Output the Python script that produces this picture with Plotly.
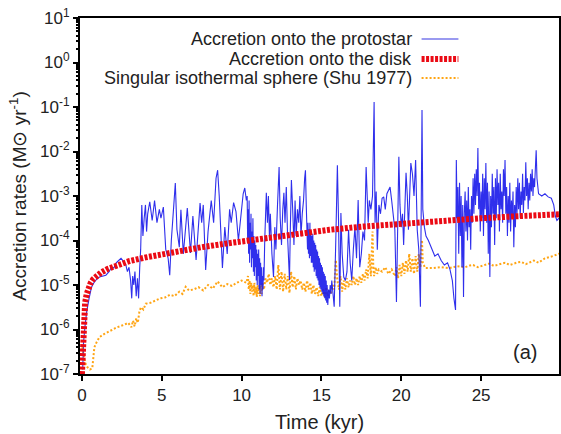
import plotly.graph_objects as go

# ---------------- data (values stored as log10) ----------------
proto_t = [0.05,0.1,0.2,0.3,0.45,0.6,0.75,0.9,1.1,1.3,1.5,1.7,1.85,2.0,2.15,2.3,2.45,2.6,2.75,2.85,2.95,3.05,3.12,3.18,3.25,3.32,3.4,3.48,3.55,3.62,3.68,3.75,
           3.82,3.9,3.98,4.05,4.12,4.25,4.4,4.55,4.7,4.85,4.95,5.1,5.25,5.4,5.5,5.6,5.72,5.85,5.95,6.1,6.2,6.35,6.45,6.6,6.8,6.95,7.15,7.25,7.4,7.5,7.6,7.75,7.9,8.1,8.25,8.4,8.5,8.6,8.7,8.8,8.95,9.1,9.25,9.35,9.5,9.65,9.8,9.95,10.1,10.2,10.3,
           10.35,10.38,10.41,10.44,10.47,10.50,10.53,10.56,10.59,10.62,10.65,10.68,10.71,10.74,10.77,10.80,10.83,10.86,10.89,10.92,10.95,10.98,11.01,11.04,11.07,11.10,11.13,11.16,11.19,11.22,11.25,11.28,11.31,11.34,11.37,11.40,11.45,11.5,
           11.55,11.62,11.68,11.75,11.8,11.9,12.0,12.08,12.15,12.25,12.35,12.42,12.5,12.58,12.65,12.72,12.8,12.88,12.95,13.0,13.05,13.12,13.2,13.28,13.35,13.42,13.5,13.58,13.65,13.72,13.8,13.88,13.95,14.0,14.05,
           14.1,14.13,14.16,14.19,14.22,14.25,14.28,14.31,14.34,14.37,14.40,14.43,14.46,14.49,14.52,14.55,14.58,14.61,14.64,14.67,14.70,14.73,14.76,14.79,14.82,14.85,14.88,14.91,14.94,14.97,15.00,15.03,15.06,15.09,15.12,15.15,15.18,15.21,15.24,15.27,15.30,15.33,15.36,15.40,15.45,15.5,15.55,15.6,15.65,15.72,15.8,
           15.9,16.0,16.07,16.15,16.22,16.3,16.4,16.5,16.6,16.7,16.8,16.9,17.0,17.1,17.2,17.3,17.4,17.5,17.6,17.7,17.8,17.87,17.93,18.0,18.1,18.2,18.3,18.36,18.43,18.5,18.6,18.7,18.8,18.9,19.0,19.1,19.2,19.3,19.4,19.5,19.6,19.7,19.78,19.85,19.92,20.0,20.08,20.15,20.3,20.38,20.45,20.52,20.6,20.7,20.8,20.9,21.0,21.1,21.2,21.3,21.35,21.45,21.55,
           21.7,21.9,22.1,22.3,22.5,22.7,22.9,23.05,23.2,23.3,23.4,
           23.45,23.5,23.55,23.6,23.65,23.7,23.75,23.8,23.85,23.9,23.95,24.0,24.05,24.1,24.15,24.2,24.25,24.3,24.35,24.4,24.45,24.5,24.55,24.6,24.65,24.7,24.75,24.8,24.85,24.9,24.95,25.0,25.05,25.1,25.15,25.2,25.25,25.3,25.35,25.4,25.45,25.5,25.55,25.6,25.65,25.7,25.75,25.8,25.85,25.9,25.95,26.0,26.05,26.1,26.15,26.2,26.25,26.3,26.35,26.4,26.45,26.5,26.55,26.6,26.65,26.7,26.75,26.8,26.85,26.9,26.95,27.0,27.05,27.1,27.15,27.2,27.25,27.3,27.35,27.4,27.45,27.5,27.55,27.6,27.65,27.7,27.75,27.8,27.85,27.9,27.95,28.0,28.05,28.1,28.15,28.2,28.25,28.3,28.35,28.4,28.45,28.5,28.55,
           28.6,28.8,29.0,29.2,29.4,29.55,29.65,29.75,29.85,30.0]
proto_log = [-6.9,-6.3,-5.9,-5.6,-5.3,-5.05,-4.95,-4.88,-4.82,-4.8,-4.78,-4.7,-4.6,-4.62,-4.5,-4.45,-4.4,-4.47,-4.55,-4.7,-4.6,-4.9,-5.3,-4.8,-5.0,-4.7,-5.25,-4.85,-5.3,-4.6,-4.2,-3.2,
             -3.9,-3.5,-3.2,-3.8,-3.4,-3.13,-3.55,-3.1,-3.6,-3.3,-3.5,-3.25,-4.2,-4.4,-4.78,-4.0,-3.35,-2.71,-3.75,-4.15,-3.31,-4.3,-3.9,-3.27,-4.28,-3.45,-4.44,-3.9,-3.16,-3.6,-3.2,-4.66,-3.8,-3.1,-3.6,-2.6,-2.42,-3.0,-4.0,-4.62,-3.7,-4.3,-3.3,-3.6,-3.15,-3.35,-4.0,-3.4,-2.95,-2.82,-3.1,
             -3.0,-4.0,-3.3,-4.3,-3.1,-4.5,-3.6,-4.2,-3.4,-4.6,-3.8,-4.4,-3.5,-4.7,-3.9,-4.8,-4.0,-4.6,-4.1,-4.9,-4.2,-5.0,-4.3,-4.8,-4.2,-5.1,-4.4,-5.2,-4.5,-5.0,-4.6,-5.25,-4.8,-5.1,-4.6,-4.9,-4.0,-3.3,
             -2.93,-3.6,-3.0,-4.0,-3.4,-4.3,-4.82,-3.7,-4.2,-3.2,-2.35,-3.5,-4.1,-3.3,-2.93,-3.6,-2.8,-3.9,-4.4,-4.89,-3.8,-2.64,-3.3,-4.1,-3.1,-3.9,-3.3,-3.6,-3.0,-3.9,-3.4,-3.1,-2.6,-2.42,-3.2,
             -3.7,-4.2,-3.6,-4.3,-3.75,-4.4,-3.6,-4.35,-3.8,-4.5,-3.9,-4.5,-3.85,-4.6,-4.0,-4.7,-4.05,-4.65,-4.1,-4.8,-4.2,-4.85,-4.25,-4.9,-4.35,-5.0,-4.4,-5.05,-4.5,-5.1,-4.55,-5.15,-4.6,-5.2,-4.7,-5.25,-4.75,-5.3,-4.8,-5.35,-4.9,-5.4,-5.0,-5.45,-5.1,-5.3,-5.0,-5.2,-4.9,-5.3,-5.49,
             -4.0,-2.31,-3.5,-5.49,-3.38,-4.3,-4.82,-4.9,-4.7,-3.76,-4.5,-4.9,-4.2,-3.7,-4.4,-3.09,-4.6,-4.3,-3.8,-4.0,-2.35,-2.9,-3.6,-3.1,-3.3,-3.0,-0.89,-3.6,-2.9,-4.21,-3.2,-3.4,-3.05,-3.02,-3.3,-2.95,-2.87,-2.8,-3.1,-3.4,-3.76,-5.38,-3.5,-2.12,-3.2,-3.7,-3.4,-4.1,-2.48,-3.0,-3.76,-3.2,-2.26,-2.5,-3.0,-2.19,-3.76,-4.21,-5.49,-1.07,-3.3,-3.7,-3.9,
             -4.0,-4.2,-4.35,-4.3,-4.45,-4.55,-4.5,-4.65,-4.9,-5.3,-5.56,
             -2.19,-3.5,-2.8,-4.3,-2.7,-3.9,-3.0,-4.6,-3.2,-5.27,-3.4,-2.9,-3.8,-3.1,-4.0,-2.8,-3.7,-3.3,-4.21,-3.0,-3.6,-2.6,-3.4,-2.5,-3.2,-2.4,-3.0,-1.92,-3.3,-2.7,-3.8,-2.9,-3.5,-2.5,-3.9,-2.6,-3.3,-2.26,-3.6,-2.7,-4.3,-2.9,-4.82,-3.0,-3.7,-2.5,-3.4,-2.8,-4.1,-2.6,-3.5,-2.4,-3.2,-2.7,-3.8,-2.5,-3.3,-2.9,-3.6,-2.4,-3.0,-2.19,-3.4,-2.8,-3.9,-3.0,-3.6,-2.7,-3.8,-3.1,-3.5,-2.9,-4.15,-3.2,-3.7,-2.8,-3.4,-2.6,-3.3,-2.7,-3.5,-2.9,-3.2,-2.5,-3.38,-2.8,-3.1,-2.24,-3.0,-2.6,-3.3,-2.7,-3.1,-2.5,-2.9,-2.4,-3.0,-2.6,-2.8,-2.2,-1.97,-2.6,-2.9,
             -2.95,-3.0,-2.95,-3.02,-3.05,-3.2,-3.45,-3.55,-3.5,-3.45]

disk_t = [0.0,0.03,0.06,0.1,0.15,0.2,0.3,0.4,0.55,0.7,0.9,1.2,1.6,2.0,2.5,3.0,4.0,5.0,6.0,7.5,9.0,10.0,11.5,12.5,14.0,15.5,17.5,20.0,22.5,25.0,27.5,30.0]
disk_log = [-7.0,-6.6,-6.2,-5.9,-5.6,-5.4,-5.2,-5.07,-4.95,-4.87,-4.8,-4.72,-4.64,-4.58,-4.51,-4.46,-4.38,-4.31,-4.24,-4.15,-4.07,-4.02,-3.95,-3.9,-3.83,-3.76,-3.69,-3.62,-3.56,-3.5,-3.45,-3.41]

shu_t = [0.02,0.1,0.2,0.35,0.5,0.65,0.72,0.78,0.9,1.1,1.4,1.8,2.2,2.6,2.9,3.1,3.2,3.3,3.4,3.5,3.6,3.7,3.85,4.0,4.3,4.6,4.9,5.2,5.5,5.8,6.1,6.3,6.5,6.7,7.0,7.3,7.6,7.9,8.2,8.5,8.8,9.1,9.4,9.7,10.0,10.3,
         10.4,10.45,10.5,10.55,10.6,10.65,10.7,10.75,10.8,10.85,10.9,10.95,11.0,11.05,11.1,11.15,11.2,11.25,11.3,11.4,11.5,11.6,11.7,11.8,11.9,12.0,12.1,12.2,12.3,12.35,12.4,12.5,12.6,12.7,12.8,12.9,13.0,13.1,13.2,13.3,13.4,13.5,13.6,13.7,13.8,13.9,14.0,14.1,14.2,14.3,14.4,14.5,14.6,14.7,14.8,14.9,15.0,15.1,15.2,15.3,15.4,15.5,15.6,15.7,15.8,15.9,16.0,16.1,16.2,16.3,16.4,16.5,16.6,16.7,16.8,16.9,17.0,17.1,17.2,17.3,17.4,17.5,17.6,17.7,17.8,17.9,18.0,18.1,18.2,18.25,18.3,18.4,18.5,18.6,18.8,19.0,19.2,19.4,19.6,19.7,19.8,19.9,20.0,20.1,20.2,20.3,20.4,20.5,20.6,20.7,20.8,20.9,21.0,21.1,21.2,21.3,21.35,
         21.5,22.0,22.5,23.0,23.5,24.0,24.3,24.5,24.8,25.0,25.3,25.5,25.8,26.0,26.3,26.5,26.8,27.0,27.3,27.5,27.8,28.0,28.3,28.6,29.0,29.5,30.0]
shu_log = [-6.4,-6.6,-6.75,-6.85,-6.9,-6.87,-6.6,-6.4,-6.3,-6.17,-6.1,-6.03,-5.95,-5.9,-5.85,-5.95,-5.8,-5.93,-5.75,-5.85,-5.6,-5.5,-5.55,-5.42,-5.4,-5.35,-5.3,-5.28,-5.22,-5.25,-5.15,-5.2,-5.04,-5.12,-5.1,-5.05,-5.12,-5.0,-5.08,-4.92,-5.05,-4.98,-5.02,-4.95,-4.9,-4.95,
           -4.8,-5.1,-4.9,-5.2,-4.95,-5.15,-5.0,-5.25,-4.95,-5.2,-5.05,-5.27,-5.0,-5.2,-5.05,-5.25,-5.0,-5.2,-4.95,-5.1,-4.85,-4.95,-4.75,-5.0,-4.85,-5.05,-4.8,-5.1,-4.55,-4.8,-5.1,-4.7,-5.15,-4.75,-5.1,-4.8,-5.18,-4.7,-5.05,-4.8,-5.1,-4.85,-5.0,-4.9,-5.1,-4.95,-5.15,-4.9,-5.1,-4.95,-5.2,-5.0,-5.2,-5.05,-5.25,-5.05,-5.25,-5.1,-5.27,-5.05,-5.25,-5.1,-5.2,-5.0,-5.1,-4.44,-4.9,-5.1,-4.8,-5.15,-4.9,-5.1,-4.85,-5.05,-4.9,-5.0,-4.8,-5.0,-4.85,-5.0,-4.8,-4.95,-4.75,-4.9,-4.65,-4.85,-4.3,-4.8,-3.8,-4.6,-4.8,-4.6,-4.75,-4.65,-4.7,-4.6,-4.75,-4.65,-4.8,-4.6,-4.85,-4.55,-4.8,-4.5,-4.75,-4.45,-4.7,-4.3,-4.7,-4.4,-4.75,-4.35,-4.7,-4.3,-4.6,-3.99,-4.5,
           -4.62,-4.62,-4.6,-4.62,-4.58,-4.6,-4.56,-4.55,-4.6,-4.58,-4.54,-4.52,-4.57,-4.55,-4.51,-4.5,-4.55,-4.52,-4.49,-4.48,-4.53,-4.5,-4.45,-4.5,-4.4,-4.35,-4.28]

legend_labels = ["Accretion onto the protostar", "Accretion onto the disk", "Singular isothermal sphere (Shu 1977)"]
y_tick_exps = [1, 0, -1, -2, -3, -4, -5, -6, -7]
x_tick_vals = [0, 5, 10, 15, 20, 25, 30]

FONT = "Liberation Sans, Arial, sans-serif"
TXT = "#222"
BLUE = "rgb(25,25,235)"
RED = "rgb(235,10,20)"
ORANGE = "rgb(255,165,20)"

fig = go.Figure()
fig.add_trace(go.Scatter(x=shu_t, y=[10 ** v for v in shu_log], mode="lines",
                         line=dict(color=ORANGE, width=2, dash="2px,2px"), showlegend=False))
fig.add_trace(go.Scatter(x=proto_t, y=[10 ** v for v in proto_log], mode="lines",
                         line=dict(color=BLUE, width=1.1), opacity=0.9, showlegend=False))
fig.add_trace(go.Scatter(x=disk_t, y=[10 ** v for v in disk_log], mode="lines",
                         line=dict(color=RED, width=6, dash="3px,1.5px"), showlegend=False))

# custom legend: right-aligned text with sample line on the right
L = 80.0; W = 481.0; H = 356.0
def px(x): return (x - L) / W
def py(y): return (374.0 - y) / H

samples = [dict(color="rgb(120,120,235)", width=1.5, dash="solid"),
           dict(color=RED, width=6, dash="3px,1.5px"),
           dict(color=ORANGE, width=2, dash="2px,2px")]
for lab, yy, st in zip(legend_labels, [39, 59, 78], samples):
    fig.add_annotation(x=px(415), y=py(yy), xref="paper", yref="paper", text=lab, showarrow=False,
                       xanchor="right", yanchor="middle", font=dict(family=FONT, size=18, color=TXT))
    fig.add_shape(type="line", xref="paper", yref="paper", x0=px(423), x1=px(460), y0=py(yy), y1=py(yy),
                  line=st)

fig.add_annotation(x=px(527), y=py(352), xref="paper", yref="paper", text="(a)", showarrow=False,
                   xanchor="center", yanchor="middle", font=dict(family=FONT, size=20, color=TXT))

minor_vals = [m * 10 ** e for e in range(-7, 1) for m in range(2, 10)]

fig.update_layout(
    width=561, height=434,
    margin=dict(l=80, r=0, t=18, b=60),
    paper_bgcolor="white", plot_bgcolor="white",
    font=dict(family=FONT, color=TXT),
    xaxis=dict(range=[-0.12, 29.88], showgrid=False, zeroline=False,
               showline=True, linecolor="black", linewidth=2, mirror=True,
               tickmode="array", tickvals=x_tick_vals, ticks="outside", ticklen=5, tickwidth=2, tickcolor="black",
               tickfont=dict(size=17, family=FONT, color=TXT),
               title=dict(text="Time (kyr)", font=dict(size=20, family=FONT, color=TXT), standoff=11)),
    yaxis=dict(type="log", range=[-7, 1], showgrid=False, zeroline=False,
               showline=True, linecolor="black", linewidth=2, mirror=True,
               tickmode="array", tickvals=[10 ** e for e in y_tick_exps],
               ticktext=["10<sup>%d</sup>" % e for e in y_tick_exps],
               ticks="outside", ticklen=5, tickwidth=2, tickcolor="black",
               minor=dict(tickvals=minor_vals, ticks="outside", ticklen=2, tickcolor="black"),
               tickfont=dict(size=17, family=FONT, color=TXT),
               title=dict(text="Accretion rates (M\u2299 yr<sup>-1</sup>)", font=dict(size=19, family=FONT, color=TXT), standoff=8)),
)

fig.write_html("out.html")
